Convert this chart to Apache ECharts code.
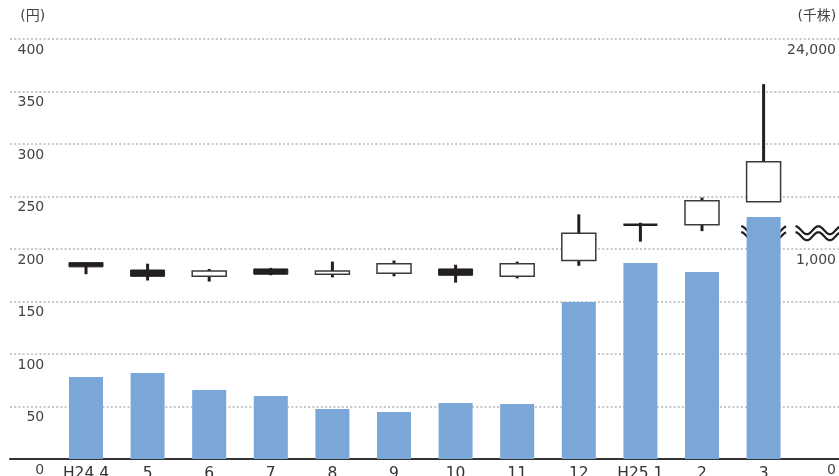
<!DOCTYPE html>
<html>
<head>
<meta charset="utf-8">
<script src="https://cdn.jsdelivr.net/npm/echarts@6/dist/echarts.min.js"></script>
<style>
  html, body { margin: 0; padding: 0; background: #fff; }
  #chart { width: 839px; height: 476px; }
</style>
</head>
<body>
<div id="chart"></div>
<script>
// Monthly share price (yen) and trading volume (thousand shares), Apr 2012 – Mar 2013
const categories = ['H24.4', '5', '6', '7', '8', '9', '10', '11', '12', 'H25.1', '2', '3'];
const priceOpen  = [187, 180, 174, 181, 176, 177, 181, 174, 189, 223, 223, 245];
const priceClose = [183, 174, 179, 176, 179, 186, 175, 186, 215, 223, 246, 283];
const priceLow   = [176, 170, 169, 175, 173, 174, 168, 172, 184, 207, 217, 245];
const priceHigh  = [187, 186, 181, 182, 188, 189, 185, 188, 233, 225, 249, 357];
const volume     = [390, 410, 329, 300, 238, 224, 267, 262, 748, 933, 890, 4500];

const priceTicks = { min: 0, max: 400, interval: 50 };
// Volume axis is broken: 0–1,000 linear, then compressed up to 24,000
const VOL_BREAK = 1000;
const VOL_TOP = 24000;
const VOL_DISPLAY_MAX = 2000;
const UPPER_RATIO = (VOL_TOP - VOL_BREAK) / (VOL_DISPLAY_MAX - VOL_BREAK);
const WAVE_LEVEL = 1075; // position of the break symbol on the volume display scale

function toDisplay(v) {
  return v <= VOL_BREAK ? v : VOL_BREAK + (v - VOL_BREAK) / UPPER_RATIO;
}
function fromDisplay(d) {
  return d <= VOL_BREAK ? d : VOL_BREAK + (d - VOL_BREAK) * UPPER_RATIO;
}

const FONT = "'DejaVu Sans', 'Noto Sans CJK JP', sans-serif";
const TEXT = '#444';
const INK = '#231f20';

const GRID = { left: 55.2, right: 44.6, top: 39, bottom: 17 };
const CHART_W = 839;

const chart = echarts.init(document.getElementById('chart'), null, { renderer: 'canvas' });

function renderCandle(params, api) {
  const i = api.value(0);
  const o = api.value(1), c = api.value(2), l = api.value(3), h = api.value(4);
  const pO = api.coord([i, o]);
  const pC = api.coord([i, c]);
  const pL = api.coord([i, l]);
  const pH = api.coord([i, h]);
  const w = api.size([1, 0])[0] * 0.552;
  const children = [{
    type: 'line',
    shape: { x1: pH[0], y1: pH[1], x2: pL[0], y2: pL[1] },
    style: { stroke: INK, lineWidth: 3 }
  }];
  if (o === c) {
    children.push({
      type: 'line',
      shape: { x1: pO[0] - w / 2, y1: pO[1], x2: pO[0] + w / 2, y2: pO[1] },
      style: { stroke: INK, lineWidth: 2.5 }
    });
  } else {
    const up = c > o;
    const top = Math.min(pO[1], pC[1]);
    const hgt = Math.abs(pO[1] - pC[1]);
    children.push({
      type: 'rect',
      shape: { x: pO[0] - w / 2, y: top, width: w, height: hgt },
      style: up
        ? { fill: '#fff', stroke: '#3a3a3a', lineWidth: 1.5 }
        : { fill: INK, stroke: INK, lineWidth: 1 }
    });
  }
  return { type: 'group', children };
}

chart.setOption({
  animation: false,
  grid: [
    { left: GRID.left, right: GRID.right, top: GRID.top, bottom: GRID.bottom, outerBoundsMode: 'none', containLabel: false },
    { left: 10, right: 0, top: GRID.top, bottom: GRID.bottom, outerBoundsMode: 'none', containLabel: false, z: 0 }
  ],
  xAxis: [
    {
      type: 'category', gridIndex: 0, data: categories,
      axisLine: { show: false }, axisTick: { show: false },
      axisLabel: { interval: 0, margin: 7, fontSize: 15.5, color: '#333', fontFamily: FONT }
    },
    {
      type: 'value', gridIndex: 1, min: 0, max: 1,
      axisLine: { show: true, lineStyle: { color: '#333', width: 2 } },
      axisTick: { show: false }, axisLabel: { show: false }, splitLine: { show: false }
    }
  ],
  yAxis: [
    {
      type: 'value', gridIndex: 0, position: 'left',
      min: priceTicks.min, max: priceTicks.max, interval: priceTicks.interval,
      name: '(円)', nameLocation: 'end', nameGap: 23,
      nameTextStyle: { align: 'right', verticalAlign: 'middle', padding: [0, 10, 0, 0], fontSize: 14, color: TEXT, fontFamily: FONT },
      axisLine: { show: false }, axisTick: { show: false }, splitLine: { show: false },
      axisLabel: {
        margin: 11, align: 'right', verticalAlign: 'top', padding: [4, 0, 0, 0],
        fontSize: 14, color: TEXT, fontFamily: FONT, showMinLabel: true, showMaxLabel: true
      }
    },
    {
      type: 'value', gridIndex: 0, position: 'right',
      min: 0, max: VOL_DISPLAY_MAX, interval: VOL_BREAK,
      name: '(千株)', nameLocation: 'end', nameGap: 23,
      nameTextStyle: { align: 'left', verticalAlign: 'middle', padding: [0, 0, 0, 3], fontSize: 14, color: TEXT, fontFamily: FONT },
      axisLine: { show: false }, axisTick: { show: false }, splitLine: { show: false },
      axisLabel: {
        margin: 41.6, align: 'right', verticalAlign: 'top', padding: [4, 0, 0, 0],
        fontSize: 14, color: TEXT, fontFamily: FONT, showMinLabel: true, showMaxLabel: true,
        formatter: (d) => fromDisplay(d).toLocaleString('en-US')
      }
    },
    {
      type: 'value', gridIndex: 1,
      min: priceTicks.min, max: priceTicks.max, interval: priceTicks.interval,
      axisLine: { show: false }, axisTick: { show: false }, axisLabel: { show: false },
      splitLine: { show: true, lineStyle: { color: '#c8c8c8', width: 2, type: [2, 2.2] } }
    }
  ],
  series: [
    {
      name: '出来高', type: 'bar', xAxisIndex: 0, yAxisIndex: 1,
      barWidth: 34, itemStyle: { color: '#7ba6d8' },
      data: volume.map(toDisplay), z: 2
    },
    {
      name: '株価', type: 'custom', xAxisIndex: 0, yAxisIndex: 0,
      renderItem: renderCandle, z: 3,
      encode: { x: 0, y: [1, 2, 3, 4] },
      data: categories.map((c, i) => [i, priceOpen[i], priceClose[i], priceLow[i], priceHigh[i]])
    }
  ]
});

// Wavy break symbols: across the off-scale bar and on the volume axis
function waveSymbol(x0, x1, yc) {
  const AMP = 4, PERIOD = 23, GAP = 6;
  const topPts = [], botPts = [];
  for (let x = x0; x <= x1 + 0.01; x += 1) {
    const s = -AMP * Math.cos((x - x0) / PERIOD * 2 * Math.PI);
    topPts.push([x, yc - GAP / 2 + s]);
    botPts.push([x, yc + GAP / 2 + s]);
  }
  return {
    type: 'group', z: 10,
    children: [
      { type: 'polygon', shape: { points: topPts.concat(botPts.slice().reverse()) }, style: { fill: '#fff' } },
      { type: 'polyline', shape: { points: topPts }, style: { stroke: INK, lineWidth: 2.2, fill: null } },
      { type: 'polyline', shape: { points: botPts }, style: { stroke: INK, lineWidth: 2.2, fill: null } }
    ]
  };
}

const brokenIdx = volume.findIndex(v => v > VOL_BREAK);
const [bx, by] = chart.convertToPixel({ xAxisIndex: 0, yAxisIndex: 1 }, [brokenIdx, WAVE_LEVEL]);
const axisX = CHART_W - GRID.right;
chart.setOption({
  graphic: [
    waveSymbol(bx - 22.5, bx + 22.5, by),
    waveSymbol(axisX + 1, CHART_W + 2, by)
  ]
});
</script>
</body>
</html>
